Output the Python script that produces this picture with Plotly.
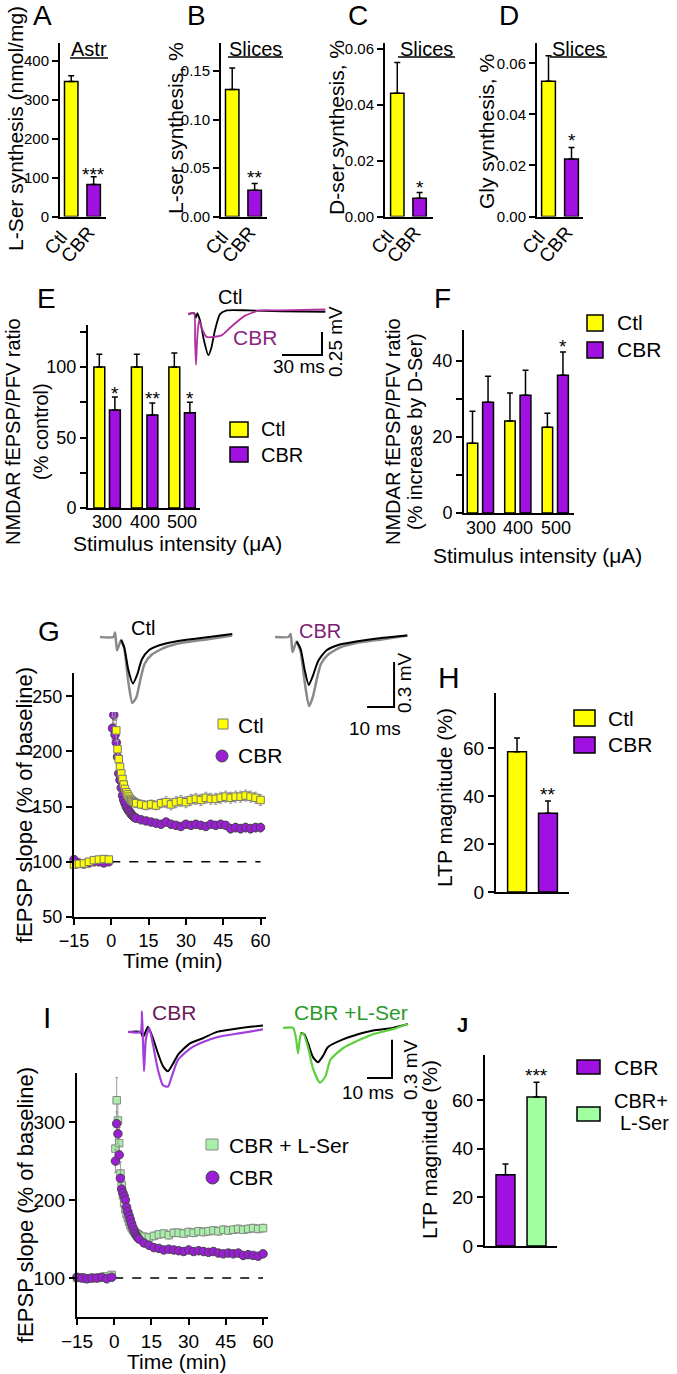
import plotly.graph_objects as go

W, H = 677, 1374
FONT = "Liberation Sans, Arial, Helvetica, sans-serif"
YEL = "#FFFF00"
PUR = "#A010E0"
GRN = "#A0FFA0"
SQ_GRN = "#A8F0A8"
CIR_PUR = "#9B1ED6"


def fx(p):
    return p / W


def fy(p):
    return 1 - p / H


# ---------------- data: panels A-D ----------------
groups = ["Ctl", "CBR"]
A_mean = [346, 82]
A_sem = [15, 20]
B_mean = [0.131, 0.027]
B_sem = [0.022, 0.007]
C_mean = [0.044, 0.0065]
C_sem = [0.011, 0.0021]
D_mean = [0.053, 0.0225]
D_sem = [0.010, 0.0045]

# ---------------- data: panels E, F ----------------
intensity = ["300", "400", "500"]
E_ctl = [100, 100, 100]
E_ctl_sem = [9, 9, 10]
E_cbr = [69.5, 66, 67.5]
E_cbr_sem = [9.2, 8.5, 7.5]
F_ctl = [18.4, 24.2, 22.6]
F_ctl_sem = [8.4, 7.4, 3.7]
F_cbr = [29.2, 31.0, 36.3]
F_cbr_sem = [6.8, 6.6, 6.1]

# ---------------- data: panels H, J ----------------
H_groups = ["Ctl", "CBR"]
H_mean = [58.5, 32.8]
H_sem = [5.7, 5.2]
J_groups = ["CBR", "CBR+L-Ser"]
J_mean = [29.3, 61.2]
J_sem = [4.4, 6.1]

# ---------------- data: time courses G, I ----------------
t_min = [-15, -13, -11, -9, -7, -5, -3, -1,
         0.5, 1, 1.5, 2, 2.5, 3, 3.5, 4, 4.5, 5, 5.5, 6, 6.5, 7, 7.5, 8, 8.5, 9, 9.5, 10,
         12, 14, 16, 18, 20, 22, 24, 26, 28, 30, 32, 34, 36, 38, 40, 42, 44, 46, 48, 50,
         52, 54, 56, 58, 60]
G_ctl = [97.5, 98, 98.5, 100, 101.5, 102, 102.5, 102,
         246, 253, 240, 219, 202, 193, 186, 180, 175, 170, 166, 163, 161, 159, 157, 156, 155, 154, 153.5, 153,
         152, 151, 152, 151, 153, 154, 152, 154, 155, 154, 156, 157, 156, 158, 157, 157, 158, 159, 158, 159,
         159, 160, 159, 158, 156]
G_ctl_sem = [3, 3, 3, 3, 3, 3, 3, 3,
             15, 14, 12, 10, 8, 7, 6, 6, 5, 5, 5, 5, 5, 4, 4, 4, 4, 4, 4, 4,
             4, 4, 4, 4, 4, 5, 5, 5, 5, 5, 5, 5, 5, 5, 5, 5, 5, 5, 5, 5, 5, 5, 5, 5, 5]
G_cbr = [102, 99, 98, 99, 100, 100, 99, 100,
         221, 233, 215, 208, 195, 180, 174, 167, 160, 156, 153, 150, 148, 146, 145, 143, 142, 141, 140, 139.5,
         138, 137, 136, 135, 134, 136, 134, 133, 132, 134, 133, 134, 133, 132, 134, 133, 134, 133, 130, 131,
         130, 131, 130, 131, 131]
G_cbr_sem = [2, 2, 2, 2, 2, 2, 2, 2,
             10, 12, 10, 8, 7, 6, 5, 5, 5, 4, 4, 4, 4, 4, 4, 4, 4, 4, 3, 3,
             3, 3, 3, 3, 3, 3, 3, 3, 3, 3, 3, 3, 3, 3, 3, 3, 3, 3, 4, 4, 4, 4, 4, 4, 4]
I_lser = [100, 101, 99, 100, 100, 101, 102, 104,
          266, 328, 302, 273, 234, 219, 206, 196, 188, 182, 177, 172, 168, 165, 162, 160, 158, 157, 156, 155,
          153, 152, 154, 156, 157, 155, 158, 158, 157, 159, 158, 160, 159, 160, 161, 160, 162, 161, 162, 163,
          162, 163, 164, 163, 164]
I_lser_sem = [3, 3, 3, 3, 3, 3, 3, 3,
              20, 29, 25, 20, 15, 12, 10, 8, 7, 6, 6, 5, 5, 5, 5, 5, 5, 4, 4, 4,
              5, 5, 5, 5, 5, 5, 5, 5, 5, 5, 5, 5, 5, 5, 5, 5, 5, 5, 5, 5, 5, 5, 5, 5, 5]
I_cbr = [101, 100, 99, 100, 100, 101, 99, 101,
         250, 298, 285, 258, 228, 214, 209, 205, 200, 191, 185, 180, 175, 170, 165, 161, 157, 154, 152, 150,
         145, 142, 139, 138, 136, 137, 136, 135, 134, 136, 134, 135, 134, 133, 134, 132, 131, 132, 131, 132,
         129, 130, 129, 128, 131]
I_cbr_sem = [2, 2, 2, 2, 2, 2, 2, 2,
             15, 15, 13, 12, 10, 9, 8, 7, 6, 6, 5, 5, 5, 5, 4, 4, 4, 4, 4, 4,
             3, 3, 3, 3, 3, 3, 3, 3, 3, 3, 3, 3, 3, 3, 3, 3, 3, 3, 3, 3, 3, 3, 3, 3, 3]

# ---------------- data: example traces (ms, mV) ----------------
E_tr_ctl_t = [0, 4.5, 6, 7, 9, 12, 15.2, 17.5, 20, 24, 29, 45, 70, 103]
E_tr_ctl_v = [-0.01, 0, -0.05, 0, -0.08, -0.3, -0.46, -0.38, -0.2, -0.01, 0.03, 0.03, 0.02, 0.015]
E_tr_cbr_t = [0, 4.5, 5.3, 6, 6.8, 8.3, 11, 14, 19.5, 25.5, 31.5, 42.5, 54, 69, 103]
E_tr_cbr_v = [-0.01, 0, -0.3, -0.565, -0.3, -0.08, -0.19, -0.26, -0.26, -0.24, -0.16, -0.03, 0.03, 0.03, 0.04]

G_ctl_gray_t = [0, 5, 5.6, 6.3, 7.8, 9, 10.5, 12, 13.5, 15, 16.5, 19, 24, 30, 40, 49]
G_ctl_gray_v = [0, 0, 0.03, -0.09, -0.02, -0.08, -0.3, -0.44, -0.4, -0.28, -0.18, -0.12, -0.07, -0.04, -0.015, 0.01]
G_ctl_blk_t = [7.8, 9, 10.5, 12.2, 13.8, 15.5, 18, 22, 28, 36, 49]
G_ctl_blk_v = [-0.02, -0.07, -0.22, -0.31, -0.25, -0.15, -0.09, -0.055, -0.03, -0.01, 0.02]
G_cbr_gray_t = [0, 5, 5.8, 6.5, 8, 9.5, 11, 12.6, 14, 15.5, 17, 19.5, 24, 30, 40, 49]
G_cbr_gray_v = [0, 0, 0.02, -0.1, -0.03, -0.1, -0.3, -0.46, -0.4, -0.28, -0.18, -0.12, -0.07, -0.04, -0.015, 0.01]
G_cbr_blk_t = [8, 9.5, 11, 12.5, 14, 16, 19, 24, 30, 40, 49]
G_cbr_blk_v = [-0.03, -0.08, -0.22, -0.32, -0.26, -0.16, -0.09, -0.05, -0.03, -0.005, 0.01]

I_cbr_pur_t = [0, 5, 5.6, 6.4, 7.2, 8.5, 10, 12, 14, 16, 17.5, 20, 25, 30, 36, 45, 54]
I_cbr_pur_v = [0, 0, 0.16, -0.31, -0.05, 0.03, -0.1, -0.3, -0.42, -0.43, -0.35, -0.22, -0.13, -0.08, -0.04, -0.01, 0.02]
I_cbr_blk_t = [0, 5, 6, 7, 8, 10, 12, 14, 16, 18, 20, 24.8, 30, 35.6, 45, 54]
I_cbr_blk_v = [0, 0, -0.04, 0.0, 0.04, -0.05, -0.17, -0.27, -0.31, -0.25, -0.18, -0.09, -0.05, 0.0, 0.03, 0.05]
I_ls_grn_t = [0, 4, 5.2, 6, 7, 8, 10, 12, 14.8, 17, 19, 24, 30, 36, 44, 50]
I_ls_grn_v = [0, 0, -0.08, -0.2, -0.06, -0.04, -0.15, -0.32, -0.43, -0.38, -0.25, -0.16, -0.1, -0.05, -0.01, 0.03]
I_ls_blk_t = [7, 8.5, 10, 12, 14, 16, 18, 24, 30, 36, 44, 50]
I_ls_blk_v = [-0.04, -0.05, -0.12, -0.23, -0.27, -0.22, -0.15, -0.09, -0.05, -0.02, 0.0, 0.03]

# scale bars
E_bar_ms, E_bar_mV = 30, 0.25
G_bar_ms, G_bar_mV = 10, 0.3
I_bar_ms, I_bar_mV = 10, 0.3

# ---------------- figure ----------------
fig = go.Figure()
layout = dict(template="none", width=W, height=H, margin=dict(l=0, r=0, t=0, b=0, pad=0, autoexpand=False),
              paper_bgcolor="white", plot_bgcolor="white", showlegend=False,
              barmode="overlay", font=dict(family=FONT, color="black"))
AX = dict(showline=True, linewidth=2, linecolor="black", tickcolor="black",
          tickwidth=1.5, ticklen=6, showgrid=False, zeroline=False, automargin=False)


def sfx(n):
    return "" if n == 1 else str(n)


def axes(n, xl, xr, yt, yb, xrange, yrange, xkw, ykw):
    s = sfx(n)
    layout["xaxis" + s] = dict(domain=[fx(xl), fx(xr)], range=xrange, anchor="y" + s, **xkw)
    layout["yaxis" + s] = dict(domain=[fy(yb), fy(yt)], range=yrange, anchor="x" + s, **ykw)


def tf(size):
    return dict(size=size, color="black", family=FONT)


def bars(n, x, y, sem, colors, width, offset=None):
    s = sfx(n)
    kw = {} if offset is None else dict(offset=offset)
    fig.add_trace(go.Bar(
        x=x, y=y, width=width,
        marker=dict(color=colors, line=dict(color="black", width=1.5)),
        error_y=dict(type="data", array=sem, arrayminus=[0] * len(sem), symmetric=False,
                     color="black", thickness=1.5, width=3),
        xaxis="x" + s, yaxis="y" + s, hoverinfo="skip", **kw))


catx = dict(AX, type="category", ticks="", showticklabels=False)
# A-D
axes(1, 60, 106, 43, 216.5, [-0.5, 1.55], [0, 445], catx,
     dict(AX, ticks="outside", tickvals=[0, 100, 200, 300, 400], tickfont=tf(15)))
axes(2, 221, 267, 43, 216.5, [-0.5, 1.55], [0, 0.1789], catx,
     dict(AX, ticks="outside", tickvals=[0, 0.05, 0.10, 0.15],
          ticktext=["0.00", "0.05", "0.10", "0.15"], tickfont=tf(15)))
axes(3, 385, 433, 43, 216.5, [-0.55, 1.6], [0, 0.062], catx,
     dict(AX, ticks="outside", tickvals=[0, 0.02, 0.04, 0.06],
          ticktext=["0.00", "0.02", "0.04", "0.06"], tickfont=tf(15)))
axes(4, 537, 583, 43, 216.5, [-0.5, 1.5], [0, 0.068], catx,
     dict(AX, ticks="outside", tickvals=[0, 0.02, 0.04, 0.06],
          ticktext=["0.00", "0.02", "0.04", "0.06"], tickfont=tf(15)))
bars(1, groups, A_mean, A_sem, [YEL, PUR], 0.6)
bars(2, groups, B_mean, B_sem, [YEL, PUR], 0.6)
bars(3, groups, C_mean, C_sem, [YEL, PUR], 0.6)
bars(4, groups, D_mean, D_sem, [YEL, PUR], 0.6)

# E, F
catE = dict(AX, type="category", ticks="", showticklabels=False)
axes(5, 88, 200, 325, 508, [-0.507, 2.48], [0, 129.8], catE,
     dict(AX, ticks="outside", tickvals=[0, 25, 50, 75, 100, 125],
          ticktext=["0", "", "50", "", "100", ""], tickfont=tf(18)))
axes(6, 464, 574, 330, 513, [-0.447, 2.49], [0, 48.2], catE,
     dict(AX, ticks="outside", tickvals=[0, 10, 20, 30, 40],
          ticktext=["0", "", "20", "", "40"], tickfont=tf(18)))
bars(5, intensity, E_ctl, E_ctl_sem, YEL, 0.29, -0.35)
bars(5, intensity, E_cbr, E_cbr_sem, PUR, 0.29, 0.065)
bars(6, intensity, F_ctl, F_ctl_sem, YEL, 0.28, -0.36)
bars(6, intensity, F_cbr, F_cbr_sem, PUR, 0.29, 0.05)

# G, I time courses
timex = dict(AX, ticks="outside", tickvals=[-15, 0, 15, 30, 45, 60], tickfont=tf(18))
axes(7, 74, 265.5, 673, 917, [-15, 62], [50, 271], timex,
     dict(AX, ticks="outside", tickvals=[50, 100, 150, 200, 250], tickfont=tf(18)))
axes(9, 77, 268, 1073, 1317, [-15, 62], [50, 363], dict(timex, tickfont=tf(19)),
     dict(AX, ticks="outside", tickvals=[100, 200, 300], tickfont=tf(19)))


def tc(n, y, sem, symbol, size, color, lc):
    s = sfx(n)
    fig.add_trace(go.Scatter(
        x=t_min, y=y, mode="markers", cliponaxis=False,
        marker=dict(symbol=symbol, size=size, color=color, line=dict(color=lc, width=1)),
        error_y=dict(type="data", array=sem, color="#9a9a9a", thickness=1, width=1.5),
        xaxis="x" + s, yaxis="y" + s, hoverinfo="skip"))


tc(7, G_cbr, G_cbr_sem, "circle", 8.5, CIR_PUR, "#444444")
tc(7, G_ctl, G_ctl_sem, "square", 7.5, YEL, "#777777")
tc(9, I_lser, I_lser_sem, "square", 7.5, SQ_GRN, "#888888")
tc(9, I_cbr, I_cbr_sem, "circle", 8.5, CIR_PUR, "#444444")

# H, J
barx = dict(AX, type="category", ticks="", showticklabels=False)
axes(8, 496, 569, 693, 892, [-0.68, 1.68], [0, 83], barx,
     dict(AX, ticks="outside", tickvals=[0, 20, 40, 60], tickfont=tf(19)))
axes(10, 485, 557, 1055, 1246, [-0.66, 1.66], [0, 78.5], barx,
     dict(AX, ticks="outside", tickvals=[0, 20, 40, 60], tickfont=tf(19)))
bars(8, H_groups, H_mean, H_sem, [YEL, PUR], 0.61)
bars(10, J_groups, J_mean, J_sem, [PUR, GRN], 0.61)

# inset axes (example traces)
inv = dict(visible=False, fixedrange=True, automargin=False)
axes(11, 188, 328, 304, 368, [0, 105], [-0.6, 0.1], inv, inv)
axes(12, 100, 235, 626.5, 712, [0, 50], [-0.5, 0.07], inv, inv)
axes(13, 275, 410, 626.5, 712, [0, 50], [-0.5, 0.07], inv, inv)
axes(14, 128, 263, 1009, 1095.5, [0, 54], [-0.5, 0.18], inv, inv)
axes(15, 283, 418, 1005, 1091.5, [0, 54], [-0.5, 0.18], inv, inv)


def wave(n, t, v, color, width=2):
    s = sfx(n)
    fig.add_trace(go.Scatter(x=t, y=v, mode="lines", cliponaxis=False,
                             line=dict(color=color, width=width, shape="spline", smoothing=0.6),
                             xaxis="x" + s, yaxis="y" + s, hoverinfo="skip"))


wave(11, E_tr_ctl_t, E_tr_ctl_v, "black", 1.8)
wave(11, E_tr_cbr_t, E_tr_cbr_v, "#B0309F", 1.8)
wave(12, G_ctl_gray_t, G_ctl_gray_v, "#8A8A8A", 2.5)
wave(12, G_ctl_blk_t, G_ctl_blk_v, "black", 2)
wave(13, G_cbr_gray_t, G_cbr_gray_v, "#8A8A8A", 2.5)
wave(13, G_cbr_blk_t, G_cbr_blk_v, "black", 2)
wave(14, I_cbr_blk_t, I_cbr_blk_v, "black", 2)
wave(14, I_cbr_pur_t, I_cbr_pur_v, "#A23FDC", 2.2)
wave(15, I_ls_blk_t, I_ls_blk_v, "black", 2)
wave(15, I_ls_grn_t, I_ls_grn_v, "#5CD03C", 2.2)


def scalebar(n, x_end, y_base, ms, mv):
    s = sfx(n)
    fig.add_trace(go.Scatter(x=[x_end - ms, x_end, x_end], y=[y_base, y_base, y_base + mv],
                             mode="lines", cliponaxis=False, line=dict(color="black", width=2),
                             xaxis="x" + s, yaxis="y" + s, hoverinfo="skip"))


scalebar(11, 100.5, -0.457, E_bar_ms, E_bar_mV)
scalebar(13, 44.1, -0.467, G_bar_ms, G_bar_mV)
scalebar(15, 43.6, -0.394, I_bar_ms, I_bar_mV)

# ---------------- annotations ----------------
ann = []


def A(text, x, y, size=20, color="black", xanchor="center", angle=0, bold=False):
    if bold:
        text = "<b>" + text + "</b>"
    ann.append(dict(text=text, x=fx(x), y=fy(y), xref="paper", yref="paper", showarrow=False,
                    font=dict(size=size, color=color, family=FONT), xanchor=xanchor,
                    yanchor="middle", textangle=angle, borderpad=0))


def star(n, xpos, top, text, shift):
    s = sfx(n)
    ann.append(dict(text=text, x=xpos, y=top, xref="x" + s, yref="y" + s, showarrow=False,
                    font=dict(size=19, color="black", family=FONT), yanchor="middle", yshift=shift))


def xtick(n, i, text, ypx, size, angle=0, xshift=0, xanchor="center", yanchor="middle"):
    s = sfx(n)
    ann.append(dict(text=text, x=i, y=fy(ypx), xref="x" + s, yref="paper", showarrow=False,
                    font=dict(size=size, color="black", family=FONT), textangle=angle,
                    xanchor=xanchor, yanchor=yanchor, xshift=xshift))


# rotated category labels A-D
for n in (1, 2, 3, 4):
    xtick(n, 0, groups[0], 224, 19, angle=-50, xshift=3, xanchor="right", yanchor="top")
    xtick(n, 1, groups[1], 220, 19, angle=-50, xshift=8, xanchor="right", yanchor="top")
# intensity labels E, F
for i, lab in enumerate(intensity):
    xtick(5, i, lab, 521.5, 18)
    xtick(6, i, lab, 528, 18)

# panel letters
A("A", 42.5, 16, 28)
A("B", 196, 16, 28)
A("C", 357.5, 16, 28)
A("D", 508.5, 16, 28)
A("E", 46, 298, 28)
A("F", 442.5, 298, 28)
A("G", 48.5, 631, 28)
A("H", 449, 678, 30)
A("I", 47.5, 1017, 30)
A("J", 462.5, 1025, 20, bold=True)

# sub-titles (underlined)
A("Astr", 89, 49, 20)
A("Slices", 255.5, 48.5, 20)
A("Slices", 426.5, 49, 20)
A("Slices", 578.5, 49, 20)

# y-axis titles
A("L-Ser synthesis (nmol/mg)", 15, 129, 21, angle=-90)
A("L-ser synthesis, %", 175, 128, 21, angle=-90)
A("D-ser synthesis, %", 336, 128, 21, angle=-90)
A("Gly synthesis, %", 486, 132, 21, angle=-90)
A("NMDAR fEPSP/PFV ratio", 13, 432, 20, angle=-90)
A("(% control)", 41, 432, 20, angle=-90)
A("NMDAR fEPSP/PFV ratio", 393, 432, 20, angle=-90)
A("(% increase by D-Ser)", 415, 432, 20, angle=-90)
A("fEPSP slope (% of baseline)", 24, 805, 22, angle=-90)
A("fEPSP slope (% of baseline)", 25, 1205, 22, angle=-90)
A("LTP magnitude (%)", 444, 798, 21, angle=-90)
A("LTP magnitude (%)", 429, 1150, 21, angle=-90)

# x-axis titles
A("Stimulus intensity (\u03bcA)", 177, 543, 21)
A("Stimulus intensity (\u03bcA)", 537, 555, 21)
A("Time (min)", 173, 960, 21)
A("Time (min)", 177, 1361, 21)

# legends text
A("Ctl", 260, 429.5, 20, xanchor="left")
A("CBR", 260, 454.5, 20, xanchor="left")
A("Ctl", 616, 323, 21, xanchor="left")
A("CBR", 616, 350, 21, xanchor="left")
A("Ctl", 237, 725, 21, xanchor="left")
A("CBR", 237, 756, 21, xanchor="left")
A("Ctl", 607, 718, 21, xanchor="left")
A("CBR", 607, 745, 21, xanchor="left")
A("CBR + L-Ser", 228, 1145, 21, xanchor="left")
A("CBR", 228, 1177.5, 21, xanchor="left")
A("CBR", 613, 1067, 21, xanchor="left")
A("CBR+", 641, 1101, 20)
A("L-Ser", 644, 1123, 20)

# inset labels
A("Ctl", 230, 297, 20)
A("CBR", 255, 338, 21, color="#8B2580")
A("30 ms", 299, 367, 19)
A("0.25 mV", 335, 342, 19, angle=-90)
A("Ctl", 142.5, 628, 20)
A("CBR", 320, 630.5, 20, color="#7B2175")
A("10 ms", 375, 728, 19)
A("0.3 mV", 405, 683, 19, angle=-90)
A("CBR", 174, 1012.5, 21, color="#6A1A5A")
A("CBR +L-Ser", 351, 1012.5, 21, color="#2A9A2A")
A("10 ms", 367.5, 1092, 19)
A("0.3 mV", 410, 1069, 19, angle=-90)

# significance stars
star(1, 1, A_mean[1] + A_sem[1], "***", 2)
star(2, 1, B_mean[1] + B_sem[1], "**", 6)
star(3, 1, C_mean[1] + C_sem[1], "*", 5)
star(4, 1, D_mean[1] + D_sem[1], "*", 7)
for i, st in enumerate(["*", "**", "*"]):
    star(5, i + 0.21, E_cbr[i] + E_cbr_sem[i], st, 4)
star(6, 2 + 0.195, F_cbr[2] + F_cbr_sem[2], "*", 6)
star(8, 1, H_mean[1] + H_sem[1], "**", 6)
star(10, 1, J_mean[1] + J_sem[1], "***", 7)

layout["annotations"] = ann

# ---------------- shapes ----------------
shapes = []


def rect(x0, y0, x1, y1, fill, lc="black", lw=1.5, kind="rect"):
    shapes.append(dict(type=kind, xref="paper", yref="paper", x0=fx(x0), x1=fx(x1),
                       y0=fy(y1), y1=fy(y0), fillcolor=fill, line=dict(color=lc, width=lw)))


def hline(x0, x1, y, lw=1.3):
    shapes.append(dict(type="line", xref="paper", yref="paper", x0=fx(x0), x1=fx(x1),
                       y0=fy(y), y1=fy(y), line=dict(color="black", width=lw)))


# underlines
hline(70, 108, 58)
hline(228, 283, 57)
hline(398, 455, 57)
hline(550, 607, 57)

# legend swatches
rect(230, 422, 248, 437, YEL)
rect(230, 447, 248, 462, PUR)
rect(587, 315, 603, 331, YEL)
rect(587, 342, 603, 358, PUR)
rect(574, 710, 595, 726, YEL)
rect(574, 737, 595, 753, PUR)
rect(577, 1060, 600, 1074, PUR)
rect(577, 1107, 600, 1121, GRN)
rect(218, 719, 228, 729, YEL, "#777777", 1)
rect(216, 750, 228, 762, CIR_PUR, "#444444", 1, "circle")
rect(206, 1139, 218, 1150, SQ_GRN, "#888888", 1)
rect(206, 1171, 219, 1184, CIR_PUR, "#444444", 1, "circle")

# dashed baselines
for n in (7, 9):
    s = sfx(n)
    shapes.append(dict(type="line", xref="x" + s, yref="y" + s, x0=0, x1=60, y0=100, y1=100,
                       layer="below", line=dict(color="black", width=1.5, dash="dash")))

layout["shapes"] = shapes
fig.update_layout(**layout)
fig.write_html("out.html", config={"displayModeBar": False},
               post_script="document.body.style.margin='0';document.body.style.padding='0';"
                           "document.body.style.overflow='hidden';")
